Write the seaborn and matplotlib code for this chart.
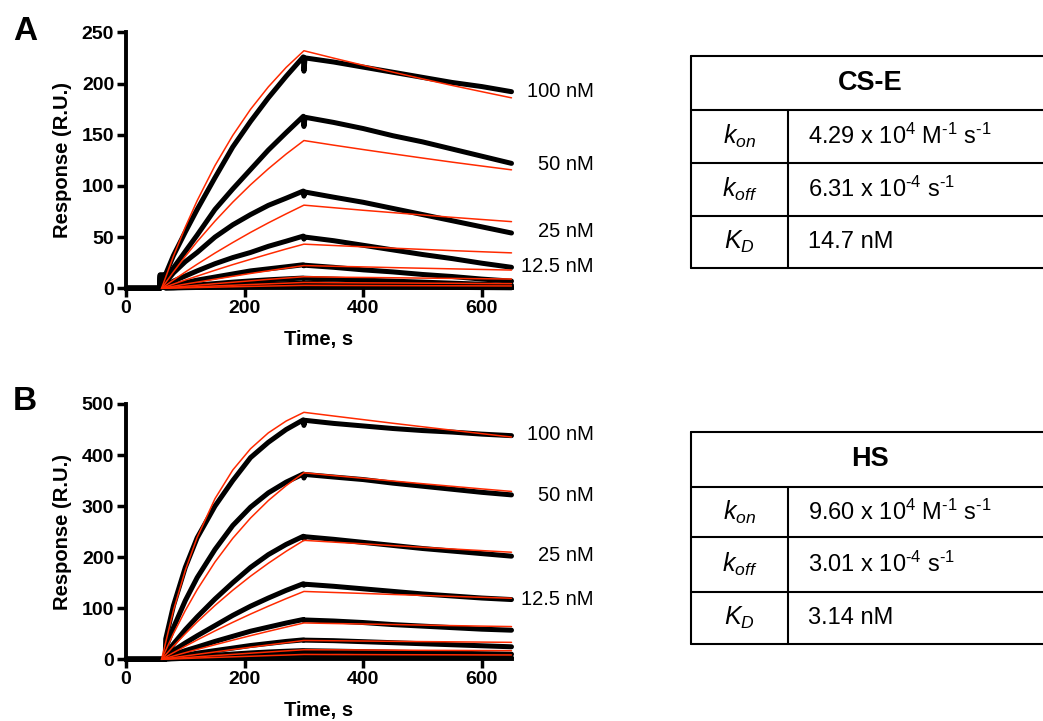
import matplotlib
matplotlib.use("Agg")
import matplotlib.pyplot as plt
import numpy as np
import pandas as pd
import seaborn as sns
from matplotlib.lines import Line2D

# ---------------- data ----------------
concs = ["100", "50", "25", "12.5", "6.25", "3.125", "1.5625", "0.78"]

time_black = [0, 57, 57.5, 66, 67, 80, 100, 120, 150, 180, 210, 240, 270, 299, 300, 302,
              350, 400, 450, 500, 550, 600, 650]
time_fit = [60, 80, 100, 120, 150, 180, 210, 240, 270, 300,
            350, 400, 450, 500, 550, 600, 650]

# Panel A (CS-E) measured sensorgrams
black_A_100 = [0, 0, 13, 13, 14, 32, 55, 77, 108, 138, 163, 186, 207, 226, 212, 225, 221, 216, 211, 206, 201, 197, 192]
black_A_50 = [0, 0, 13, 13, 8, 20, 36, 52, 77, 97, 116, 135, 152, 168, 158, 167, 162, 156, 149, 143, 136, 129, 122]
black_A_25 = [0, 0, 12, 12, 6, 15, 26, 35, 50, 62, 72, 81, 88, 95, 90, 94, 89, 84, 78, 72, 66, 60, 54]
black_A_12 = [0, 0, 11, 11, 3, 7, 12, 17, 24, 30, 35, 41, 46, 51, 48, 50, 46.5, 42, 37.5, 33, 29, 24.5, 20.5]
black_A_6 = [0, 0, 10, 10, 1.5, 3, 5.5, 8, 11, 14, 17, 19, 21, 23, 22, 22.5, 20.5, 18, 16, 13.5, 11.5, 9, 7]
black_A_3 = [0, 0, 9, 9, 0.8, 1.2, 2.2, 3.2, 4.6, 6, 7.2, 8.3, 9.2, 10, 9.5, 9.8, 9, 8, 7, 6, 5, 4, 3]
black_A_1 = [0, 0, 8, 8, 0.4, 0.6, 1.1, 1.6, 2.3, 3, 3.6, 4.1, 4.6, 5, 4.8, 4.9, 4.4, 3.8, 3.2, 2.6, 2.1, 1.5, 1]
black_A_0 = [0, 0, 7, 7, 0.2, 0.3, 0.6, 0.8, 1.2, 1.5, 1.8, 2.1, 2.3, 2.5, 2.4, 2.4, 2.1, 1.8, 1.5, 1.2, 0.9, 0.7, 0.5]

# Panel A fitted curves
red_A_100 = [0, 31.4, 59.8, 85.6, 119.8, 149.3, 174.8, 196.7, 215.7, 232.0, 224.8, 217.8, 211.1, 204.5, 198.1, 192.0, 186.0]
red_A_50 = [0, 16.0, 31.2, 45.6, 65.6, 84.1, 101.1, 116.7, 131.1, 144.3, 139.8, 135.5, 131.3, 127.2, 123.2, 119.4, 115.7]
red_A_25 = [0, 8.1, 15.9, 23.5, 34.4, 44.7, 54.6, 63.9, 72.7, 81.2, 78.7, 76.2, 73.9, 71.6, 69.3, 67.2, 65.1]
red_A_12 = [0, 4.1, 8.1, 11.9, 17.6, 23.1, 28.3, 33.4, 38.4, 43.1, 41.8, 40.5, 39.2, 38.0, 36.8, 35.7, 34.6]
red_A_6 = [0, 2.0, 4.1, 6.0, 8.9, 11.7, 14.5, 17.1, 19.7, 22.2, 21.5, 20.9, 20.2, 19.6, 19.0, 18.4, 17.8]
red_A_3 = [0, 1.0, 2.0, 3.0, 4.5, 5.9, 7.3, 8.7, 10.0, 11.3, 10.9, 10.6, 10.3, 9.95, 9.64, 9.34, 9.05]
red_A_1 = [0, 0.5, 1.0, 1.5, 2.3, 3.0, 3.7, 4.4, 5.0, 5.7, 5.5, 5.3, 5.2, 5.0, 4.9, 4.7, 4.6]
red_A_0 = [0, 0.26, 0.51, 0.76, 1.13, 1.49, 1.85, 2.2, 2.53, 2.86, 2.77, 2.69, 2.60, 2.52, 2.44, 2.37, 2.29]

# Panel B (HS) measured sensorgrams
black_B_100 = [0, 0, 0, 0, 40, 105, 180, 238, 300, 350, 395, 425, 450, 469, 458, 468, 462, 457, 452, 448, 445, 441, 438]
black_B_50 = [0, 0, 0, 0, 22, 62, 115, 160, 215, 262, 298, 326, 347, 363, 355, 362, 357, 352, 345, 339, 333, 327, 322]
black_B_25 = [0, 0, 0, 0, 10, 30, 58, 83, 118, 150, 180, 205, 225, 241, 236, 240, 235, 229, 223, 217, 212, 207, 202]
black_B_12 = [0, 0, 0, 0, 5, 17, 32, 46, 66, 86, 104, 120, 135, 148, 145, 147, 143, 138, 133, 128, 124, 120, 117]
black_B_6 = [0, 0, 0, 0, 3, 9, 17, 24, 35, 45, 55, 63, 71, 78, 76, 77, 75, 72, 68, 65, 62, 59, 57]
black_B_3 = [0, 0, 0, 0, 1.5, 4, 8, 12, 17, 22, 27, 31, 35, 38, 37, 37.5, 36.5, 34.5, 32.5, 30.5, 28.5, 26.5, 24.5]
black_B_1 = [0, 0, 0, 0, 0.7, 2, 3.8, 5.5, 8, 10.3, 12.5, 14.3, 15.8, 17, 16.5, 16.8, 16, 15, 14, 13, 12, 11, 10]
black_B_0 = [0, 0, 0, 0, 0.3, 1, 2, 2.8, 4, 5.1, 6.1, 7, 7.6, 8, 7.8, 7.9, 7.3, 6.6, 5.9, 5.2, 4.5, 3.8, 3]

# Panel B fitted curves
red_B_100 = [0, 95.8, 174.4, 238.8, 314.5, 370.7, 412.4, 443.5, 466.6, 483.7, 476.5, 469.4, 462.3, 455.4, 448.6, 441.9, 435.3]
red_B_50 = [0, 50.2, 95.5, 136.4, 190.5, 236.9, 276.7, 310.9, 340.1, 365.3, 359.8, 354.5, 349.2, 343.9, 338.8, 333.7, 328.8]
red_B_25 = [0, 25.7, 50.0, 73.1, 105.4, 135.2, 162.8, 188.1, 211.5, 233.0, 229.5, 226.1, 222.7, 219.4, 216.1, 212.9, 209.7]
red_B_12 = [0, 13.0, 25.6, 37.9, 55.6, 72.4, 88.6, 104.0, 118.8, 132.9, 130.9, 129.0, 127.0, 125.1, 123.3, 121.4, 119.6]
red_B_6 = [0, 6.5, 13.0, 19.3, 28.5, 37.5, 46.3, 54.8, 63.1, 71.2, 70.1, 69.1, 68.1, 67.0, 66.0, 65.0, 64.1]
red_B_3 = [0, 3.3, 6.5, 9.7, 14.4, 19.1, 23.7, 28.1, 32.5, 36.9, 36.3, 35.8, 35.2, 34.7, 34.2, 33.7, 33.2]
red_B_1 = [0, 1.6, 3.3, 4.9, 7.3, 9.6, 12.0, 14.3, 16.5, 18.7, 18.5, 18.2, 17.9, 17.6, 17.4, 17.1, 16.9]
red_B_0 = [0, 0.8, 1.6, 2.5, 3.7, 4.8, 6.0, 7.2, 8.3, 9.5, 9.3, 9.2, 9.0, 8.9, 8.8, 8.6, 8.5]

black_A = [black_A_100, black_A_50, black_A_25, black_A_12, black_A_6, black_A_3, black_A_1, black_A_0]
red_A = [red_A_100, red_A_50, red_A_25, red_A_12, red_A_6, red_A_3, red_A_1, red_A_0]
black_B = [black_B_100, black_B_50, black_B_25, black_B_12, black_B_6, black_B_3, black_B_1, black_B_0]
red_B = [red_B_100, red_B_50, red_B_25, red_B_12, red_B_6, red_B_3, red_B_1, red_B_0]

curve_labels = ["100 nM", "50 nM", "25 nM", "12.5 nM"]
label_y_A = [192, 120.5, 55, 21]
label_y_B = [440, 320, 204, 117.5]

yticks_A = [0, 50, 100, 150, 200, 250]
yticks_B = [0, 100, 200, 300, 400, 500]
xticks = [0, 200, 400, 600]

param_labels = [r"$k_{on}$", r"$k_{off}$", r"$K_D$"]
title_A = "CS-E"
values_A = [r"4.29 x 10$^{4}$ M$^{\text{-}1}$ s$^{\text{-}1}$", r"6.31 x 10$^{\text{-}4}$ s$^{\text{-}1}$", "14.7 nM"]
title_B = "HS"
values_B = [r"9.60 x 10$^{4}$ M$^{\text{-}1}$ s$^{\text{-}1}$", r"3.01 x 10$^{\text{-}4}$ s$^{\text{-}1}$", "3.14 nM"]

# ---------------- style ----------------
sns.set_theme(style="ticks")
plt.rcParams["font.family"] = ["Liberation Sans", "DejaVu Sans"]
plt.rcParams["mathtext.fontset"] = "custom"
plt.rcParams["mathtext.rm"] = "Liberation Sans"
plt.rcParams["mathtext.it"] = "Liberation Sans:italic"
plt.rcParams["mathtext.bf"] = "Liberation Sans:bold"
plt.rcParams["axes.edgecolor"] = "black"
plt.rcParams["text.color"] = "black"
plt.rcParams["axes.labelcolor"] = "black"
plt.rcParams["xtick.color"] = "black"
plt.rcParams["ytick.color"] = "black"

W, H = 1043, 721
fig = plt.figure(figsize=(W / 100, H / 100), dpi=100)
fig.patch.set_facecolor("white")


def fx(px):
    return px / W


def fy(py):
    return 1 - py / H


def long_df(times, series):
    rows = []
    for c, vals in zip(concs, series):
        for t, v in zip(times, vals):
            rows.append((c, t, v))
    return pd.DataFrame(rows, columns=["conc", "time", "response"])


def draw_panel(ax, blacks, reds, ymax, yticks, label_y):
    dfb = long_df(time_black, blacks)
    dfr = long_df(time_fit, reds)
    n0 = len(ax.lines)
    sns.lineplot(data=dfb, x="time", y="response", units="conc", estimator=None,
                 color="black", linewidth=3.6, sort=False, ax=ax, zorder=2)
    for ln in ax.lines[n0:]:
        ln.set_solid_capstyle("round")
        ln.set_solid_joinstyle("round")
        ln.set_clip_on(False)
    n1 = len(ax.lines)
    sns.lineplot(data=dfr, x="time", y="response", units="conc", estimator=None,
                 color="#ff2a00", linewidth=1.1, sort=False, ax=ax, zorder=3)
    for ln in ax.lines[n1:]:
        ln.set_clip_on(False)
    ax.set_xlim(0, 650)
    ax.set_ylim(0, ymax)
    ax.set_xticks(xticks)
    ax.set_yticks(yticks)
    sns.despine(ax=ax)
    for s in ["left", "bottom"]:
        ax.spines[s].set_linewidth(2.8)
        ax.spines[s].set_color("black")
    ax.tick_params(direction="out", length=6.5, width=2.5, labelsize=14,
                   pad=2, colors="black")
    for lbl in ax.get_xticklabels() + ax.get_yticklabels():
        lbl.set_fontweight("bold")
    ax.set_xlabel("Time, s", fontsize=14.5, fontweight="bold", labelpad=9, color="black")
    ax.set_ylabel("Response (R.U.)", fontsize=14.5, fontweight="bold", labelpad=7, color="black")
    ax.set_facecolor("white")
    for lab, yv in zip(curve_labels, label_y):
        ax.text(789, yv, lab, ha="right", va="center", fontsize=14.5,
                color="black", clip_on=False)


axA = fig.add_axes([fx(126), fy(288.3), fx(511.5) - fx(126), fy(32.3) - fy(288.3)])
axB = fig.add_axes([fx(126), fy(659.3), fx(511.5) - fx(126), fy(404) - fy(659.3)])
draw_panel(axA, black_A, red_A, 250, yticks_A, label_y_A)
draw_panel(axB, black_B, red_B, 500, yticks_B, label_y_B)

fig.text(fx(25), fy(31), "A", fontsize=24, fontweight="bold", ha="center", va="center")
fig.text(fx(25), fy(402), "B", fontsize=24, fontweight="bold", ha="center", va="center")


def hline(x0, x1, y):
    fig.add_artist(Line2D([fx(x0), fx(x1)], [fy(y), fy(y)], color="black", lw=1.5,
                          transform=fig.transFigure))


def vline(x, y0, y1):
    fig.add_artist(Line2D([fx(x), fx(x)], [fy(y0), fy(y1)], color="black", lw=1.5,
                          transform=fig.transFigure))


def draw_table(rows_y, title, values):
    left, div, right = 691, 788, 1060
    top, s1, s2, s3, bot = rows_y
    for y in rows_y:
        hline(left, right, y)
    vline(left, top, bot)
    vline(div, s1, bot)
    fig.text(fx(870), fy((top + s1) / 2), title, fontsize=19.5, fontweight="bold",
             ha="center", va="center")
    centers = [(s1 + s2) / 2, (s2 + s3) / 2, (s3 + bot) / 2]
    for p, v, yc in zip(param_labels, values, centers):
        fig.text(fx((left + div) / 2), fy(yc), p, fontsize=18, ha="center", va="center")
        fig.text(fx(808), fy(yc), v, fontsize=17, ha="left", va="center")


draw_table([56, 110, 163.3, 215.7, 268.3], title_A, values_A)
draw_table([431.7, 486.7, 537.3, 591.7, 644], title_B, values_B)

fig.savefig("out.png", dpi=100, facecolor="white")
